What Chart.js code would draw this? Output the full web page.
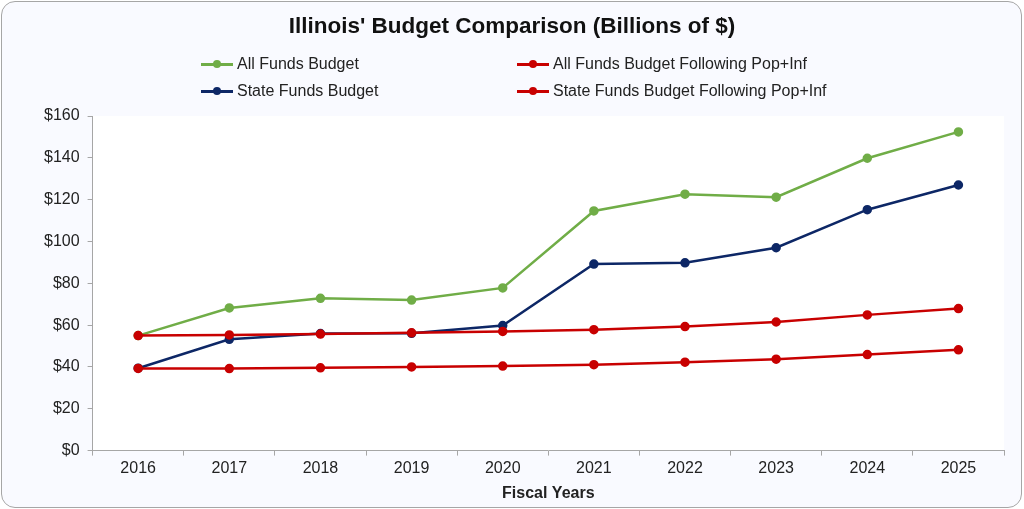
<!DOCTYPE html>
<html>
<head>
<meta charset="utf-8">
<script src="https://cdn.jsdelivr.net/npm/chart.js@4"></script>
<style>
    body { margin: 0; background: #ffffff; font-family: "Liberation Sans", Arial, sans-serif; }
    #card {
        position: absolute; left: 1px; top: 1px; width: 1019px; height: 505px;
        border: 1px solid #a6a6a6; border-radius: 14px; background: #f9faff;
    }
    #wrap { position: absolute; left: 0; top: 0; width: 1024px; height: 509px; }
    .legendItem {
        position: absolute; font-size: 16px; color: #222; line-height: 18px;
        display: flex; align-items: center; white-space: nowrap;
    }
    .legendItem .swatch { position: relative; width: 32px; height: 18px; margin-right: 4px; }
    .legendItem .swatch .ln { position: absolute; left: 0; right: 0; top: 8px; height: 3px; }
    .legendItem .swatch .dot { position: absolute; left: 12px; top: 5px; width: 8px; height: 8px; border-radius: 50%; }
</style>
</head>
<body>
<div id="card"></div>
<div id="wrap"><canvas id="budgetChart" width="1024" height="509"></canvas></div>
<div id="legend"></div>
<script>
const years = ['2016', '2017', '2018', '2019', '2020', '2021', '2022', '2023', '2024', '2025'];
const allFunds = [55, 68.2, 72.8, 72, 77.8, 114.6, 122.6, 121.2, 139.8, 152.4];
const stateFunds = [39.4, 53.2, 56, 56.1, 59.8, 89.2, 89.8, 97, 115.2, 127];
const allFundsPopInf = [55, 55.3, 55.7, 56.3, 57, 57.8, 59.3, 61.5, 64.9, 67.9];
const stateFundsPopInf = [39.3, 39.2, 39.6, 40, 40.4, 41.1, 42.3, 43.7, 45.9, 48.2];

const green = '#70ad47';
const navy = '#0d2766';
const red = '#c80000';

const legendItems = [
    { text: 'All Funds Budget', color: green, left: 201, top: 55 },
    { text: 'All Funds Budget Following Pop+Inf', color: red, left: 517, top: 55 },
    { text: 'State Funds Budget', color: navy, left: 201, top: 82 },
    { text: 'State Funds Budget Following Pop+Inf', color: red, left: 517, top: 82 }
];

const legendEl = document.getElementById('legend');
legendItems.forEach((item) => {
    const div = document.createElement('div');
    div.className = 'legendItem';
    div.style.left = item.left + 'px';
    div.style.top = item.top + 'px';
    div.innerHTML = '<span class="swatch"><span class="ln" style="background:' + item.color + '"></span>' +
        '<span class="dot" style="background:' + item.color + '"></span></span><span>' + item.text + '</span>';
    legendEl.appendChild(div);
});

const plotBackground = {
    id: 'plotBackground',
    beforeDraw(chart) {
        const { ctx, chartArea } = chart;
        ctx.save();
        ctx.fillStyle = '#ffffff';
        ctx.fillRect(chartArea.left, chartArea.top, chartArea.right - chartArea.left, chartArea.bottom - chartArea.top);
        ctx.restore();
    }
};

function series(label, data, color) {
    return {
        label: label,
        data: data,
        borderColor: color,
        backgroundColor: color,
        borderWidth: 2.5,
        pointRadius: 3.5,
        pointHoverRadius: 3.5,
        tension: 0
    };
}

Chart.defaults.font.family = '"Liberation Sans", Arial, sans-serif';
Chart.defaults.color = '#222';

const ctx = document.getElementById('budgetChart').getContext('2d');
const chart = new Chart(ctx, {
    type: 'line',
    data: {
        labels: years,
        datasets: [
            series('State Funds Budget Following Pop+Inf', stateFundsPopInf, red),
            series('All Funds Budget Following Pop+Inf', allFundsPopInf, red),
            series('State Funds Budget', stateFunds, navy),
            series('All Funds Budget', allFunds, green)
        ]
    },
    options: {
        responsive: false,
        animation: false,
        layout: {
            padding: { left: 20, right: 20, top: 0, bottom: 6 }
        },
        scales: {
            x: {
                offset: true,
                grid: {
                    offset: true,
                    drawOnChartArea: false,
                    tickLength: 5,
                    color: '#a6a6a6'
                },
                border: { color: '#a6a6a6' },
                ticks: { font: { size: 16 }, color: '#222', padding: 3 },
                title: {
                    display: true,
                    text: 'Fiscal Years',
                    font: { size: 16, weight: 'bold' },
                    color: '#222',
                    padding: { top: 3, bottom: 0 }
                }
            },
            y: {
                min: 0,
                max: 160,
                afterFit: (scale) => { scale.width += 16; },
                grid: {
                    drawOnChartArea: false,
                    tickLength: 5,
                    color: '#a6a6a6'
                },
                border: { color: '#a6a6a6' },
                ticks: {
                    stepSize: 20,
                    font: { size: 16 },
                    color: '#222',
                    padding: 8,
                    callback: (v) => '$' + v
                }
            }
        },
        plugins: {
            legend: { display: false },
            tooltip: { enabled: false },
            title: {
                display: true,
                text: "Illinois' Budget Comparison (Billions of $)",
                font: { size: 22.5, weight: 'bold' },
                color: '#111',
                padding: { top: 13, bottom: 76 }
            }
        }
    },
    plugins: [plotBackground]
});
</script>
</body>
</html>
